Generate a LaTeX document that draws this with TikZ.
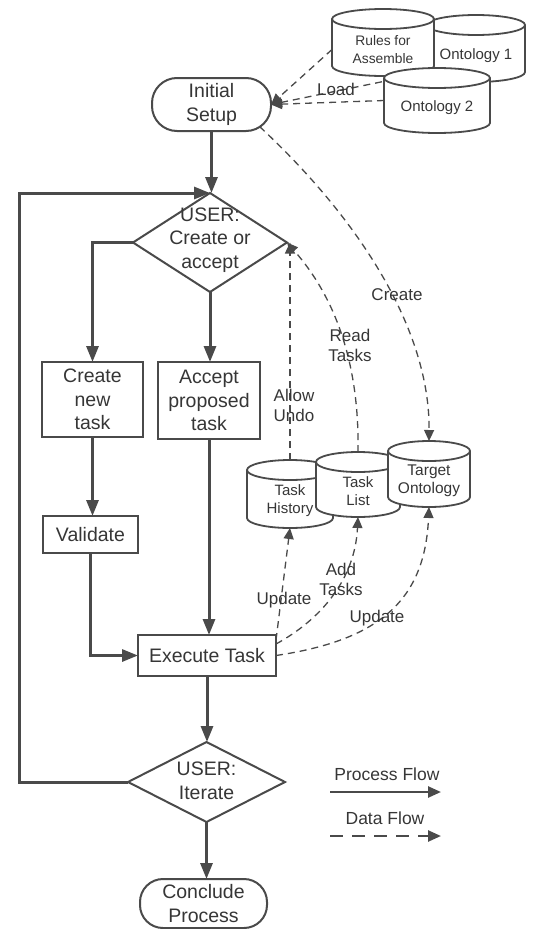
\documentclass[tikz,border=0pt]{standalone}
\usepackage{fontspec}
\setmainfont{Liberation Sans}
\usetikzlibrary{arrows.meta,shapes.geometric}
\pgfdeclarelayer{bg}
\pgfsetlayers{bg,main}
\definecolor{ln}{HTML}{4A4A4A}
\definecolor{tx}{HTML}{363636}
% #1 name, #2 cx, #3 cy, #4 width, #5 height, #6 half width, #7 text, #8 font size
\newcommand\dbcyl[8]{%
  \node[cylbox, minimum width=#4pt, minimum height=#5pt] (#1) at (#2,#3) {};
  \draw[cylline] ([yshift=-10pt]#1.north west) -- ([yshift=10pt]#1.south west)
     arc[start angle=180,end angle=360,x radius=#6pt,y radius=10pt]
     -- ([yshift=-10pt]#1.north east)
     arc[start angle=0,end angle=180,x radius=#6pt,y radius=10pt] -- cycle;
  \draw[cylline,fill=none] ([yshift=-10pt]#1.north west)
     arc[start angle=180,end angle=360,x radius=#6pt,y radius=10pt];
  \node[cyltext, font=\fontsize{#8}{18}\selectfont] (#1t) at ([yshift=-7pt]#1.center) {#7};
}
\tikzset{
  every node/.style={text=tx},
  proc/.style={draw=ln, line width=3pt, -{Triangle[length=16pt,width=12pt]}},
  data/.style={draw=ln, line width=1.3pt, dash pattern=on 7pt off 5pt, -{Triangle[length=11pt,width=10pt]}},
  boxn/.style={draw=ln, line width=2pt, fill=white, rectangle, align=center, inner sep=0pt, outer sep=0pt,
    font=\fontsize{19.5}{23.5}\selectfont},
  term/.style={boxn, rounded corners=25pt},
  diam/.style={diamond, draw=ln, line width=2pt, fill=white, inner sep=0pt, outer sep=0pt},
  dtext/.style={align=center, inner sep=0pt, font=\fontsize{19.5}{23.5}\selectfont},
  cylbox/.style={rectangle, draw=none, inner sep=0pt, outer sep=0pt},
  cylline/.style={draw=ln, line width=1.8pt, fill=white},
  cyltext/.style={align=center, inner sep=0pt},
  lbl/.style={align=center, inner sep=0pt, font=\fontsize{17}{20}\selectfont},
}
\begin{document}
\begin{tikzpicture}[x=1pt, y=-1pt]
\useasboundingbox (0,0) rectangle (538,929);

% ---------- process nodes ----------
\node[term, minimum width=119pt, minimum height=53pt] (init) at (211.5,104.5) {Initial\\Setup};
\node[diam, minimum width=154pt, minimum height=99pt] (d1) at (210,242.5) {};
\node[dtext] (d1t) at (210,240) {USER:\\Create or\\accept};
\node[boxn, minimum width=101pt, minimum height=75pt] (cnew) at (92.5,399.5) {Create\\new\\task};
\node[boxn, minimum width=102pt, minimum height=77pt] (acc) at (209,400.5) {Accept\\proposed\\task};
\node[boxn, minimum width=95pt, minimum height=37pt] (val) at (90.5,534.5) {Validate};
\node[boxn, minimum width=138pt, minimum height=41pt] (exec) at (207,655.5) {Execute Task};
\node[diam, minimum width=157pt, minimum height=80pt] (d2) at (206.5,782) {};
\node[dtext] (d2t) at (206.5,781) {USER:\\Iterate};
\node[term, minimum width=127pt, minimum height=49pt, rounded corners=23pt] (concl) at (203.5,903.5) {Conclude\\Process};
\coordinate (loopL) at (19,0);

% ---------- data stores ----------
\dbcyl{ont1}{476}{48.5}{98}{67}{49}{Ontology 1}{15}
\dbcyl{rules}{383}{42.5}{102}{67}{51}{Rules for\\Assemble}{13.8}
\dbcyl{ont2}{437}{100.5}{106}{65}{53}{Ontology 2}{15}
\dbcyl{thist}{290}{494}{86}{68}{43}{Task\\History}{15}
\dbcyl{tlist}{358}{484.5}{84}{65}{42}{Task\\List}{15}
\dbcyl{target}{429}{474}{82}{66}{41}{Target\\Ontology}{15.5}

% ---------- process flow ----------
\draw[proc] (init.south) -- (init.south |- d1.north);
\draw[proc] (d1.west) -| (cnew.north);
\draw[proc] (d1.south) -- (d1.south |- acc.north);
\draw[proc] (cnew.south) -- (cnew.south |- val.north);
\draw[proc] (val.south) |- (exec.west);
\draw[proc] (acc.south) -- (acc.south |- exec.north);
\draw[proc] (exec.south) -- (exec.south |- d2.north);
\draw[proc] (d2.south) -- (d2.south |- concl.north);
\draw[proc] (d2.west) -- (loopL |- d2.west) |- (d1.north);

% ---------- data flow ----------
\begin{pgfonlayer}{bg}
\draw[data] ([yshift=-7pt]rules.west) -- (init.east);
\draw[data] ([yshift=-14pt]ont1.center) -- (init.east);
\draw[data] (ont2.west) -- (init.east);
\draw[data] ([xshift=48pt,yshift=-22pt]init.center) .. controls (360,220) and (430,330) .. (target.north);
\draw[data] (tlist.north) .. controls (360,340) and (320,280) .. (d1.east);
\draw[data] (thist.north) -- (thist.north |- d1.east);
\draw[data] ([yshift=-5pt]exec.north east) -- (thist.south);
\draw[data] ([yshift=-9pt]exec.north east) .. controls (320,620) and (355,580) .. (tlist.south);
\draw[data] (exec.east) .. controls (380,640) and (425,600) .. (target.south);
\end{pgfonlayer}

% ---------- labels ----------
\node[lbl] (lLoad) at (336,89) {Load};
\node[lbl] (lCreate) at (397,295) {Create};
\node[lbl] (lRead) at (350,345) {Read\\Tasks};
\node[lbl, align=left] (lUndo) at (294,405) {Allow\\Undo};
\node[lbl] (lUpd1) at (284,600) {Update};
\node[lbl] (lAdd) at (341,579) {Add\\Tasks};
\node[lbl] (lUpd2) at (377,618) {Update};

% ---------- legend ----------
\node[lbl, font=\fontsize{17.5}{20}\selectfont] (lgP) at (387,774) {Process Flow};
\coordinate (lgPa) at (330,792);
\coordinate (lgPb) at (441,792);
\draw[draw=ln, line width=2.5pt, -{Triangle[length=13pt,width=11pt]}] (lgPa) -- (lgPb);
\node[lbl, font=\fontsize{17.5}{20}\selectfont] (lgD) at (385,818) {Data Flow};
\coordinate (lgDa) at (330,836);
\coordinate (lgDb) at (441,836);
\draw[draw=ln, line width=2.5pt, dash pattern=on 13pt off 9pt, -{Triangle[length=13pt,width=11pt]}] (lgDa) -- (lgDb);
\end{tikzpicture}
\end{document}
